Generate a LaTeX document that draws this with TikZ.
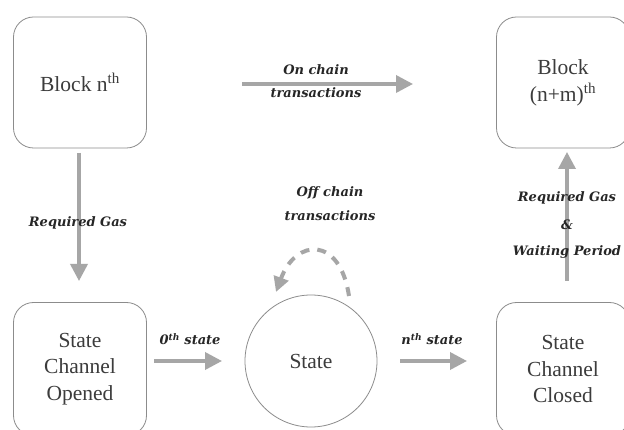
\documentclass[tikz,border=0pt]{standalone}
\usepackage{fontspec}
\setmainfont{Liberation Serif}
\newfontfamily\lblfont{DejaVu Serif}
\usetikzlibrary{arrows.meta}
\definecolor{arr}{HTML}{A6A6A6}
\definecolor{edge}{HTML}{8C8C8C}
\definecolor{txt}{HTML}{3C3C3C}
\begin{document}
\begin{tikzpicture}[x=1pt,y=-1pt,
  box/.style={draw=edge,line width=0.8pt,rounded corners=20pt,minimum width=133pt,minimum height=131pt,align=center,text=txt,font=\fontsize{21.5}{26.5}\selectfont,inner sep=0pt},
  statec/.style={draw=edge,line width=0.8pt,circle,minimum size=132pt,text=txt,font=\fontsize{21.5}{26.5}\selectfont,inner sep=0pt},
  flow/.style={draw=arr,line width=3.5pt,-{Triangle[length=17pt,width=17pt]}},
  loopflow/.style={draw=arr,line width=4pt,dash pattern=on 9pt off 8pt,-{Triangle[length=15pt,width=15pt]}},
  lbl/.style={font=\lblfont\fontsize{13}{16}\selectfont\bfseries\itshape,text=black!85,align=center,inner sep=0pt}]
\useasboundingbox (0,0) rectangle (624,430);
\fill[white] (0,0) rectangle (624,430);
\node[box] (bn) at (80,82.5) {Block n\textsuperscript{th}};
\node[box,text depth=4pt] (bnm) at (563,82.5) {Block\\(n+m)\textsuperscript{th}};
\node[box,minimum height=133pt] (sco) at (80,369) {State\\Channel\\Opened};
\node[box,minimum height=133pt] (scc) at (563,369) {State\\Channel\\Closed};
\node[statec] (st) at (311,361) {State};
% free ends
\coordinate (oc1) at (242,84);
\coordinate (oc2) at (413,84);
\coordinate (d1) at (79,153);
\coordinate (d2) at (79,281);
\coordinate (u1) at (567,281);
\coordinate (u2) at (567,152);
\coordinate (z1) at (154,361);
\coordinate (z2) at (222,361);
\coordinate (n1) at (400,361);
\coordinate (n2) at (467,361);
\coordinate (l1) at (349,296);
\coordinate (l2) at (276,292);
\draw[flow] (oc1) -- (oc2);
\draw[flow] (d1) -- (d2);
\draw[flow] (u1) -- (u2);
\draw[flow] (z1) -- (z2);
\draw[flow] (n1) -- (n2);
\draw[loopflow] (l1) .. controls (340,236) and (296,238) .. (l2);
\node[lbl] (lon) at (316,70) {On chain};
\node[lbl] (ltr) at (316,93) {transactions};
\node[lbl] (lrg) at (78,223) {Required Gas};
\node[lbl] (lrg2) at (567,198) {Required Gas};
\node[lbl] (lamp) at (567,225) {\&};
\node[lbl] (lwp) at (567,252) {Waiting Period};
\node[lbl] (loff) at (330,193) {Off chain};
\node[lbl] (ltr2) at (330,216) {transactions};
\node[lbl] (l0) at (190,339) {0\textsuperscript{th} state};
\node[lbl] (ln) at (432,339) {n\textsuperscript{th} state};
\end{tikzpicture}
\end{document}
